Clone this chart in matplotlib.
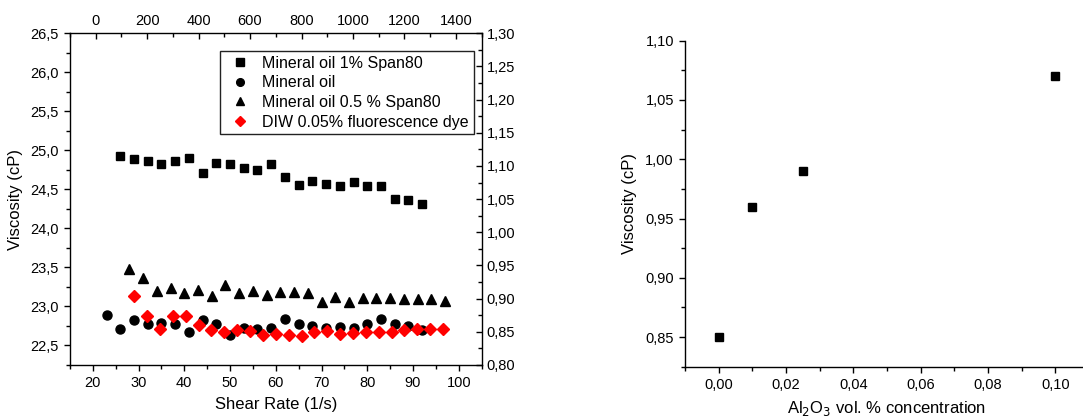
import matplotlib.pyplot as plt
from matplotlib.ticker import MultipleLocator, FuncFormatter

plt.rcParams['font.family'] = ['Liberation Sans', 'DejaVu Sans']

# shear-rate sweeps (bottom axis, cP on the left axis)
rate_span1 = [26, 29, 32, 35, 38, 41, 44, 47, 50, 53, 56, 59, 62, 65, 68, 71, 74, 77, 80, 83, 86, 89, 92]
visc_span1 = [24.93, 24.89, 24.86, 24.83, 24.86, 24.90, 24.71, 24.84, 24.83, 24.77, 24.75, 24.82,
              24.66, 24.55, 24.61, 24.57, 24.54, 24.60, 24.54, 24.54, 24.38, 24.36, 24.31]

rate_oil = [23, 26, 29, 32, 35, 38, 41, 44, 47, 50, 53, 56, 59, 62, 65, 68, 71, 74, 77, 80, 83, 86, 89, 92]
visc_oil = [22.885, 22.71, 22.83, 22.77, 22.79, 22.77, 22.67, 22.83, 22.77, 22.64, 22.73, 22.71,
            22.72, 22.84, 22.77, 22.75, 22.73, 22.74, 22.73, 22.77, 22.84, 22.77, 22.75, 22.70]

rate_span05 = [28, 31, 34, 37, 40, 43, 46, 49, 52, 55, 58, 61, 64, 67, 70, 73, 76, 79, 82, 85, 88, 91, 94, 97]
visc_span05 = [23.48, 23.37, 23.20, 23.24, 23.17, 23.21, 23.14, 23.28, 23.17, 23.20, 23.15, 23.19,
               23.18, 23.17, 23.06, 23.12, 23.06, 23.11, 23.11, 23.11, 23.10, 23.10, 23.09, 23.07]

# DIW sweep (top axis, cP on the right axis)
rate_diw = [150, 200, 250, 300, 350, 400, 450, 500, 550, 600, 650, 700, 750, 800, 850, 900, 950,
            1000, 1050, 1100, 1150, 1200, 1250, 1300, 1350]
visc_diw = [0.9035, 0.874, 0.855, 0.874, 0.874, 0.861, 0.853, 0.850, 0.853, 0.851, 0.845, 0.846,
            0.845, 0.844, 0.849, 0.851, 0.847, 0.848, 0.849, 0.850, 0.850, 0.853, 0.854, 0.855, 0.855]

# nanofluid viscosity vs. alumina loading
conc = [0.0, 0.01, 0.025, 0.10]
visc_conc = [0.85, 0.96, 0.99, 1.07]


def comma(fmt):
    return FuncFormatter(lambda v, p: (fmt % v).replace('.', ','))


TICK = 10.5
LABEL = 12
LEGEND = 11.5

fig = plt.figure(figsize=(10.83, 4.19), dpi=100)

# left panel: main axes
ax = fig.add_axes([0.0646, 0.1289, 0.3801, 0.7916])
ax.plot(rate_span1, visc_span1, 's', color='k', ms=6, label='Mineral oil 1% Span80')
ax.plot(rate_oil, visc_oil, 'o', color='k', ms=6.5, label='Mineral oil')
ax.plot(rate_span05, visc_span05, '^', color='k', ms=7, label='Mineral oil 0.5 % Span80')
ax.set_xlim(15, 105)
ax.set_ylim(22.25, 26.5)
ax.xaxis.set_major_locator(MultipleLocator(10))
ax.xaxis.set_minor_locator(MultipleLocator(5))
ax.yaxis.set_major_locator(MultipleLocator(0.5))
ax.yaxis.set_minor_locator(MultipleLocator(0.25))
ax.yaxis.set_major_formatter(comma('%.1f'))
ax.tick_params(which='both', direction='out', labelsize=TICK, width=1)
ax.tick_params(which='major', length=4.5)
ax.tick_params(which='minor', length=3)
ax.set_xlabel('Shear Rate (1/s)', fontsize=LABEL, labelpad=5)
ax.set_ylabel('Viscosity (cP)', fontsize=LABEL, labelpad=5)
for s in ax.spines.values():
    s.set_linewidth(1)

# left panel: twin top/right axes for the DIW data
ax2 = fig.add_axes(ax.get_position(), frameon=False)
ax2.xaxis.tick_top()
ax2.yaxis.tick_right()
ax2.plot(rate_diw, visc_diw, 'D', color='#ff0000', ms=6, label='DIW 0.05% fluorescence dye')
ax2.set_xlim(-100, 1500)
ax2.set_ylim(0.80, 1.30)
ax2.xaxis.set_major_locator(MultipleLocator(200))
ax2.xaxis.set_minor_locator(MultipleLocator(100))
ax2.yaxis.set_major_locator(MultipleLocator(0.05))
ax2.yaxis.set_minor_locator(MultipleLocator(0.025))
ax2.yaxis.set_major_formatter(comma('%.2f'))
ax2.tick_params(which='both', direction='in', labelsize=TICK, width=1)
ax2.tick_params(which='major', length=4.5)
ax2.tick_params(which='minor', length=3)

h1, l1 = ax.get_legend_handles_labels()
h2, l2 = ax2.get_legend_handles_labels()
leg = ax2.legend(h1 + h2, l1 + l2, loc='upper right', bbox_to_anchor=(0.981, 0.947),
                 borderaxespad=0, fancybox=False, fontsize=LEGEND, handlelength=1.9,
                 handletextpad=0.45, borderpad=0.3, labelspacing=0.29, framealpha=1,
                 markerscale=0.85)
leg.get_frame().set_edgecolor('#222222')
leg.get_frame().set_linewidth(1)

# right panel
bx = fig.add_axes([0.6325, 0.1248, 0.3731, 0.778])
bx.plot(conc, visc_conc, 's', color='k', ms=6)
bx.set_xlim(-0.01, 0.11)
bx.set_ylim(0.825, 1.10)
bx.spines['top'].set_visible(False)
bx.spines['right'].set_visible(False)
bx.xaxis.set_major_locator(MultipleLocator(0.02))
bx.xaxis.set_minor_locator(MultipleLocator(0.01))
bx.yaxis.set_major_locator(MultipleLocator(0.05))
bx.yaxis.set_minor_locator(MultipleLocator(0.025))
bx.xaxis.set_major_formatter(comma('%.2f'))
bx.yaxis.set_major_formatter(comma('%.2f'))
bx.tick_params(which='both', direction='out', labelsize=TICK, width=1)
bx.tick_params(which='major', length=4.5)
bx.tick_params(which='minor', length=3)
bx.set_xlabel('Al$_2$O$_3$ vol. % concentration', fontsize=LABEL, labelpad=5)
bx.set_ylabel('Viscosity (cP)', fontsize=LABEL, labelpad=6)
for s in bx.spines.values():
    s.set_linewidth(1)

fig.savefig('out.png', dpi=100)
